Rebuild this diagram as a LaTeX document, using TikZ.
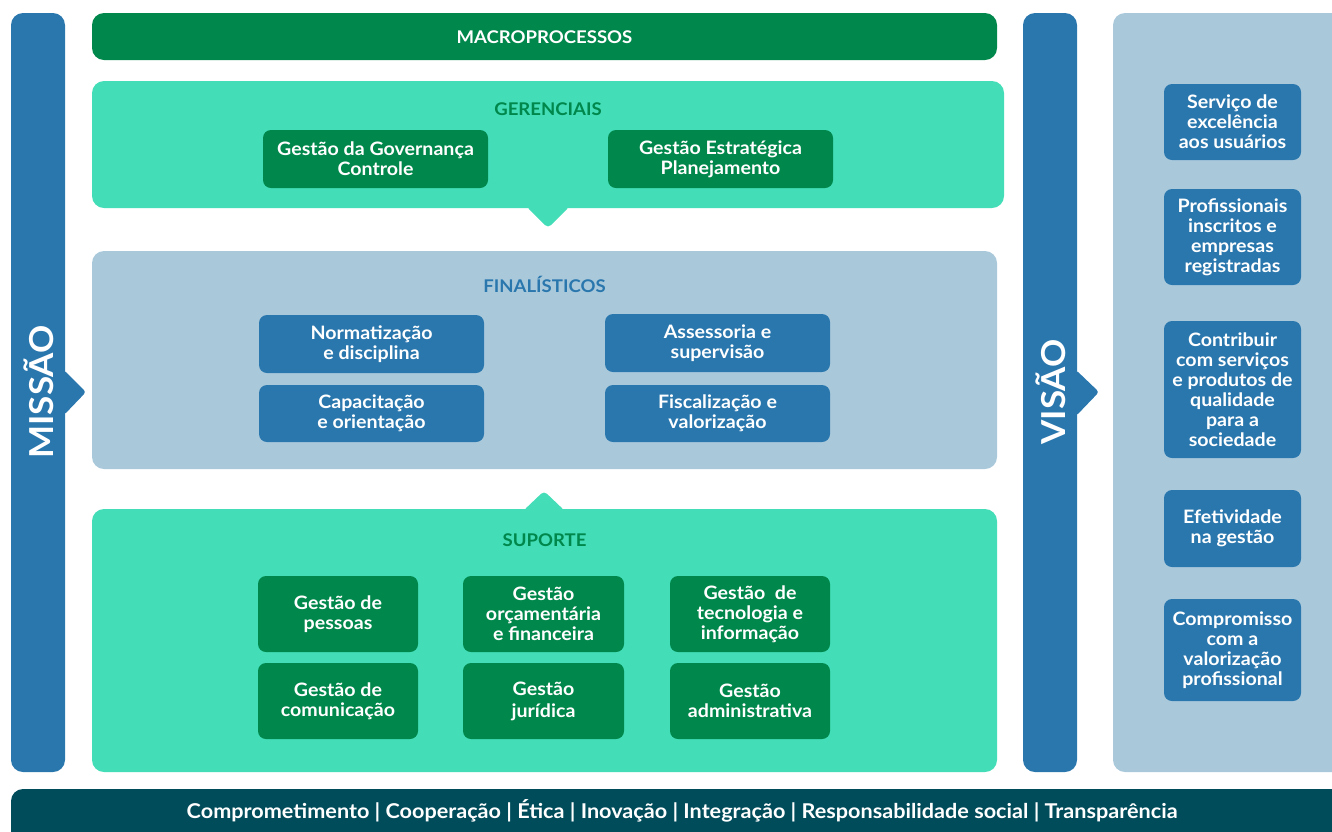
\documentclass[tikz,border=0pt]{standalone}
\usepackage{fontspec}
\setmainfont{Lato}[FakeStretch=1.06]
\definecolor{cblue}{HTML}{2A77AE}
\definecolor{cgreen}{HTML}{00874B}
\definecolor{cmint}{HTML}{43DDB7}
\definecolor{clight}{HTML}{A9C9DB}
\definecolor{cteal}{HTML}{004C5B}
\tikzset{
  panel/.style={rounded corners=12pt},
  gbox/.style={fill=cgreen, rounded corners=8pt, text=white, align=center, font=\fontsize{18.5}{20}\selectfont\bfseries, inner sep=0pt},
  bbox/.style={fill=cblue, rounded corners=8pt, text=white, align=center, font=\fontsize{18.5}{20}\selectfont\bfseries, inner sep=0pt},
  ttl/.style={font=\fontsize{17.5}{20}\selectfont\bfseries, inner sep=0pt},
  vert/.style={text=white, font=\fontsize{33}{36}\selectfont\bfseries, rotate=90, inner sep=0pt}
}
\begin{document}
\begin{tikzpicture}[x=1pt,y=-1pt]
\useasboundingbox (0,0) rectangle (1332,831);
% side bars
\fill[cblue, panel] (11,13) rectangle (65,772);
\fill[cblue, rounded corners=3pt] (64,370) -- (86,392) -- (64,415) -- cycle;
\node[vert] (missao) at (39,392) {MISSÃO};
\fill[cblue, panel] (1023,13) rectangle (1077,772);
\fill[cblue, rounded corners=3pt] (1076,370) -- (1099,392) -- (1076,416) -- cycle;
\node[vert] (visao) at (1051,392) {VISÃO};
% macroprocessos
\fill[cgreen, panel] (92,13) rectangle (997,60);
\node[ttl, text=white] (macro) at (544.5,37) {MACROPROCESSOS};
% gerenciais
\fill[cmint, panel] (92,81) rectangle (1004,208);
\fill[cmint, rounded corners=4pt] (526,206) -- (548,228) -- (570,206) -- cycle;
\node[ttl, text=cgreen] (ger) at (548,109) {GERENCIAIS};
\node[gbox, minimum width=225pt, minimum height=58pt] (g1) at (375.5,159) {Gestão da Governança\\Controle};
\node[gbox, minimum width=225pt, minimum height=58pt] (g2) at (720.5,159) {Gestão Estratégica\\Planejamento};
% finalisticos
\fill[clight, panel] (92,251) rectangle (997,469);
\node[ttl, text=cblue] (fin) at (544.5,284) {FINALÍSTICOS};
\node[bbox, minimum width=225pt, minimum height=58pt] (f1) at (371.5,344) {Normatização\\e disciplina};
\node[bbox, minimum width=225pt, minimum height=58pt] (f2) at (717.5,343) {Assessoria e\\supervisão};
\node[bbox, minimum width=225pt, minimum height=57pt] (f3) at (371.5,413.5) {Capacitação\\e orientação};
\node[bbox, minimum width=225pt, minimum height=57pt] (f4) at (717.5,413.5) {Fiscalização e\\valorização};
% suporte
\fill[cmint, panel] (92,509) rectangle (997,772);
\fill[cmint, rounded corners=4pt] (523,511) -- (544,491) -- (565,511) -- cycle;
\node[ttl, text=cgreen] (sup) at (544.5,540) {SUPORTE};
\node[gbox, minimum width=160pt, minimum height=76pt] (s1) at (338,614) {Gestão de\\pessoas};
\node[gbox, minimum width=161pt, minimum height=76pt] (s2) at (543.5,614) {Gestão\\orçamentária\\e financeira};
\node[gbox, minimum width=160pt, minimum height=76pt] (s3) at (750,614) {Gestão\ \ de\\tecnologia e\\informação};
\node[gbox, minimum width=160pt, minimum height=76pt] (s4) at (338,701) {Gestão de\\comunicação};
\node[gbox, minimum width=161pt, minimum height=76pt] (s5) at (543.5,701) {Gestão\\[2pt]jurídica};
\node[gbox, minimum width=160pt, minimum height=76pt] (s6) at (750,701) {Gestão\\administrativa};
% right panel
\fill[clight, rounded corners=12pt] (1345,13) -- (1113,13) -- (1113,772) -- (1345,772);
\node[bbox, minimum width=137pt, minimum height=76pt] (v1) at (1232.5,122) {Serviço de\\excelência\\aos usuários};
\node[bbox, minimum width=137pt, minimum height=96pt] (v2) at (1232.5,237) {Profissionais\\inscritos e\\empresas\\registradas};
\node[bbox, minimum width=137pt, minimum height=137pt] (v3) at (1232.5,389.5) {Contribuir\\com serviços\\e produtos de\\qualidade\\para a\\sociedade};
\node[bbox, minimum width=137pt, minimum height=77pt] (v4) at (1232.5,528.5) {Efetividade\\na gestão};
\node[bbox, minimum width=137pt, minimum height=102pt] (v5) at (1232.5,650) {Compromisso\\com a\\valorização\\profissional};
% bottom bar
\fill[cteal, rounded corners=12pt] (1345,789) -- (11,789) -- (11,845) -- (1345,845);
\node[text=white, font=\fontsize{20.4}{24}\selectfont\bfseries, inner sep=0pt] (vals) at (682,811) {Comprometimento | Cooperação | Ética | Inovação | Integração | Responsabilidade social | Transparência};
\end{tikzpicture}
\end{document}
